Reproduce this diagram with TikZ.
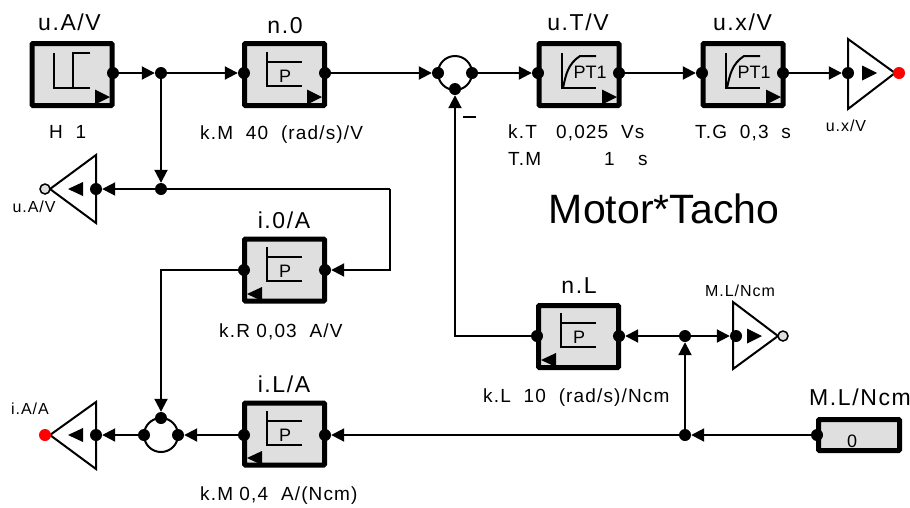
\documentclass[tikz,border=0pt]{standalone}
\usepackage{fontspec}
\setmainfont{Liberation Sans}[LetterSpace=6]
\newfontfamily\titlefont{Liberation Sans}[LetterSpace=7]
\newfontfamily\tinyfont{Liberation Sans}[LetterSpace=6]
\newfontfamily\plainfont{Liberation Sans}
\usetikzlibrary{arrows.meta,positioning,calc}
\definecolor{boxgray}{gray}{0.875}
\tikzset{
  block/.style={draw,line width=5pt,rounded corners=1pt,fill=boxgray,minimum width=80pt,minimum height=62pt,inner sep=0pt},
  constbox/.style={draw,line width=5pt,rounded corners=1pt,fill=boxgray,minimum width=81pt,minimum height=31pt,inner sep=0pt},
  dot/.style={circle,fill=black,minimum size=12pt,inner sep=0pt},
  tap/.style={circle,draw,line width=1.5pt,fill=boxgray,minimum size=10pt,inner sep=0pt},
  reddot/.style={circle,fill=red,minimum size=12pt,inner sep=0pt},
  sumring/.style={circle,draw,line width=2pt,minimum size=34pt,inner sep=0pt},
  wire/.style={line width=2pt},
  sig/.style={line width=2pt,-{Triangle[length=13pt,width=13pt]}},
  title/.style={font=\titlefont\fontsize{23}{26}\selectfont,inner sep=0pt,anchor=base},
  param/.style={font=\fontsize{19}{22}\selectfont,inner sep=0pt,anchor=base west},
  tiny/.style={font=\tinyfont\fontsize{16}{18}\selectfont,inner sep=0pt,anchor=base},
  amp/.style={line width=2pt,line join=miter},
  flag/.pic={\fill (0,-7.5) -- (15,0) -- (0,7.5) -- cycle;},
  flagleft/.pic={\fill (15,-7) -- (0,0) -- (15,7) -- cycle;},
  stepsym/.pic={
    \draw [wire] (24,12) -- (24,47) -- (60,47);
    \draw [wire] (60,12) -- (43,12) -- (43,47);
  },
  psym/.pic={
    \draw [wire] (25,11) -- (25,45) -- (60,45);
    \draw [wire] (25,21) -- (60,21);
    \node [font=\plainfont\fontsize{18}{20}\selectfont,inner sep=0pt] (-p) at (43,35) {P};
  },
  ptsym/.pic={
    \draw [wire] (26,12) -- (26,47) -- (60,47);
    \draw [wire] (27,47) .. controls (30,33) and (32,23) .. (44,15) -- (60,15);
    \node [font=\plainfont\fontsize{18}{20}\selectfont,inner sep=0pt] (-t) at (54,31) {PT1};
  }
}
\begin{document}
\begin{tikzpicture}[x=1pt,y=-1pt]
  \useasboundingbox (0,0) rectangle (910,507);
  % blocks
  \node [block] (uA) at (72,74.5) {};
  \node [block] (n0) at (284.5,74.5) {};
  \node [block] (uT) at (579,74.5) {};
  \node [block] (ux) at (743,74.5) {};
  \node [block] (i0) at (284.5,270) {};
  \node [block] (nL) at (578.5,336.5) {};
  \node [block] (iL) at (284.5,434) {};
  \node [constbox] (ML) at (859,435) {};
  % symbols in the blocks
  \pic at (30,41) {stepsym};
  \pic at (30,41) [shift={(65,56)}] {flag};
  \pic (n0s) at (242,41) {psym};
  \pic at (242,41) [shift={(65,56)}] {flag};
  \pic (uTs) at (536,41) {ptsym};
  \pic at (536,41) [shift={(66,56)}] {flag};
  \pic (uxs) at (700,41) {ptsym};
  \pic at (700,41) [shift={(66,56)}] {flag};
  \pic (i0s) at (242,236) {psym};
  \pic at (242,236) [shift={(5,58)}] {flagleft};
  \pic (nLs) at (536,302) {psym};
  \pic at (536,302) [shift={(5,58)}] {flagleft};
  \pic (iLs) at (242,400) {psym};
  \pic at (242,400) [shift={(5,58)}] {flagleft};
  % amplifiers
  \draw [amp] (848,39) -- (895,73) -- (848,109) -- cycle;
  \draw [amp] (96,155) -- (50,189) -- (96,223) -- cycle;
  \draw [amp] (733,302) -- (778,336) -- (733,369) -- cycle;
  \draw [amp] (96,402) -- (50,435) -- (96,469) -- cycle;
  \pic at (862,73) {flag};
  \pic at (68,189) {flagleft};
  \pic at (747,336) {flag};
  \pic at (68,435) {flagleft};
  % sum rings
  \node [sumring] (sum1) at (455,73) {};
  \node [sumring] (sum2) at (161,435) {};
  % connection dots
  \node [dot] (uAout) at (113,73) {};
  \node [dot] (j1) at (161,73) {};
  \node [dot] (n0in) at (244,73) {};
  \node [dot] (n0out) at (325,73) {};
  \node [dot] (s1l) at (438,73) {};
  \node [dot] (s1r) at (472,73) {};
  \node [dot] (s1b) at (455,89) {};
  \node [dot] (uTin) at (538,73) {};
  \node [dot] (uTout) at (619,73) {};
  \node [dot] (uxin) at (702,73) {};
  \node [dot] (uxout) at (783,73) {};
  \node [dot] (a1in) at (848,73) {};
  \node [reddot] (a1out) at (899,73) {};
  \node [dot] (j2) at (161,189) {};
  \node [dot] (a2in) at (96,189) {};
  \node [tap] (a2out) at (45,189) {};
  \node [dot] (i0in) at (325,270) {};
  \node [dot] (i0out) at (244,270) {};
  \node [dot] (nLin) at (619,336) {};
  \node [dot] (nLout) at (537,336) {};
  \node [dot] (j3) at (685,336) {};
  \node [dot] (a3in) at (736,336) {};
  \node [tap] (a3out) at (783,336) {};
  \node [dot] (j4) at (685,435) {};
  \node [dot] (MLout) at (817,435) {};
  \node [dot] (iLin) at (325,435) {};
  \node [dot] (iLout) at (244,435) {};
  \node [dot] (s2r) at (178,435) {};
  \node [dot] (s2l) at (144,435) {};
  \node [dot] (s2t) at (161,418) {};
  \node [dot] (a4in) at (96,435) {};
  \node [reddot] (a4out) at (45,435) {};
  \coordinate (fbtop) at (390,189);
  \coordinate (fbbot) at (390,270);
  \coordinate (i0left) at (161,270);
  \coordinate (nLleft) at (455,336);
  % connectors
  \draw [sig] (uAout) -- (j1);
  \draw [sig] (j1) -- (n0in);
  \draw [sig] (j1) -- (j2);
  \draw [sig] (n0out) -- (s1l);
  \draw [sig] (s1r) -- (uTin);
  \draw [sig] (uTout) -- (uxin);
  \draw [sig] (uxout) -- (a1in);
  \draw [sig] (j2) -- (a2in);
  \draw [wire] (fbtop) -- (j2);
  \draw [sig] (fbtop) -- (fbbot) -- (i0in);
  \draw [sig] (i0out) -- (i0left) -- (s2t);
  \draw [sig] (nLout) -- (nLleft) -- (s1b);
  \draw [sig] (j3) -- (nLin);
  \draw [sig] (j3) -- (a3in);
  \draw [sig] (j4) -- (j3);
  \draw [sig] (MLout) -- (j4);
  \draw [sig] (j4) -- (iLin);
  \draw [sig] (iLout) -- (s2r);
  \draw [sig] (s2l) -- (a4in);
  % minus sign
  \draw [line width=2pt] (463,117) -- (476,117);
  % labels
  \node [title] (tuA) at (69.5,30) {u.A/V};
  \node [title] (tn0) at (285,33) {n.0};
  \node [title] (tuT) at (578,30) {u.T/V};
  \node [title] (tux) at (742.5,30) {u.x/V};
  \node [title] (ti0) at (284,228) {i.0/A};
  \node [title] (tnL) at (579,293) {n.L};
  \node [title] (tiL) at (284,392) {i.L/A};
  \node [title] (tML) at (860,405) {M.L/Ncm};
  \node [param] (pH) at (49,138) {H\ \ 1};
  \node [param] (pn0) at (200,139) {k.M\ \ 40\ \ (rad/s)/V};
  \node [param] (pT1) at (508,138) {k.T\ \ \ 0,025\ \ Vs};
  \node [param] (pT2) at (508,165) {T.M};
  \node [param] (pT3) at (604,165) {1};
  \node [param] (pT4) at (638,165) {s};
  \node [param] (pG) at (695,138) {T.G\ \ 0,3\ \ s};
  \node [param] (pi0) at (219,337) {k.R 0,03\ \ A/V};
  \node [param] (pnL) at (483,402) {k.L\ \ 10\ \ (rad/s)/Ncm};
  \node [param] (piL) at (200,500) {k.M 0,4\ \ A/(Ncm)};
  \node [tiny] (lA) at (34,212) {u.A/V};
  \node [tiny] (lx) at (846,131) {u.x/V};
  \node [tiny] (lM) at (740,296) {M.L/Ncm};
  \node [tiny] (lI) at (30,414) {i.A/A};
  \node [font=\plainfont\fontsize{41}{44}\selectfont,inner sep=0pt,anchor=base] (motor) at (664,223) {Motor*Tacho};
  \node [font=\plainfont\fontsize{18}{21}\selectfont,inner sep=0pt,anchor=base] (zero) at (852,447) {0};
\end{tikzpicture}
\end{document}
